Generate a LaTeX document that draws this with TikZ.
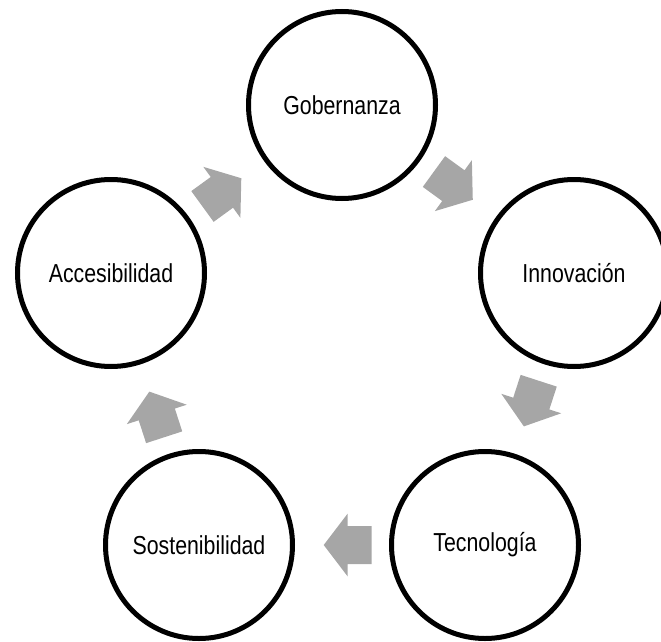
\documentclass[tikz,border=0pt]{standalone}
\usepackage{fontspec}
\setmainfont{Liberation Sans}[FakeStretch=0.82]
\usetikzlibrary{calc}
\definecolor{arrowgray}{HTML}{A6A6A6}
\tikzset{
  stage/.style={circle, draw=black, line width=5pt, fill=white, minimum size=187pt, inner sep=0pt,
    font=\fontsize{26}{30}\selectfont},
  arrowfill/.style={fill=arrowgray, draw=none}
}
\newcommand{\cyclearrow}[3]{%
  \begin{scope}[shift={($(#1)!0.48!(#2)$)}, rotate=#3]
    \fill[arrowfill] (24,0) -- (0,31.5) -- (0,19) -- (-24,19) -- (-24,-19) -- (0,-19) -- (0,-31.5) -- cycle;
  \end{scope}}
\begin{document}
\begin{tikzpicture}[x=1pt,y=-1pt]
\useasboundingbox (0,0) rectangle (661,642);
\node[stage] (G) at (342,105) {Gobernanza};
\node[stage] (I) at (574,273) {Innovación};
\node[stage] (T) at (485,545) {Tecnología};
\node[stage] (S) at (199,545) {Sostenibilidad};
\node[stage] (A) at (111,273) {Accesibilidad};
\cyclearrow{G}{I}{-36}
\cyclearrow{I}{T}{-108}
\cyclearrow{T}{S}{180}
\cyclearrow{S}{A}{108}
\cyclearrow{A}{G}{36}
\end{tikzpicture}
\end{document}
